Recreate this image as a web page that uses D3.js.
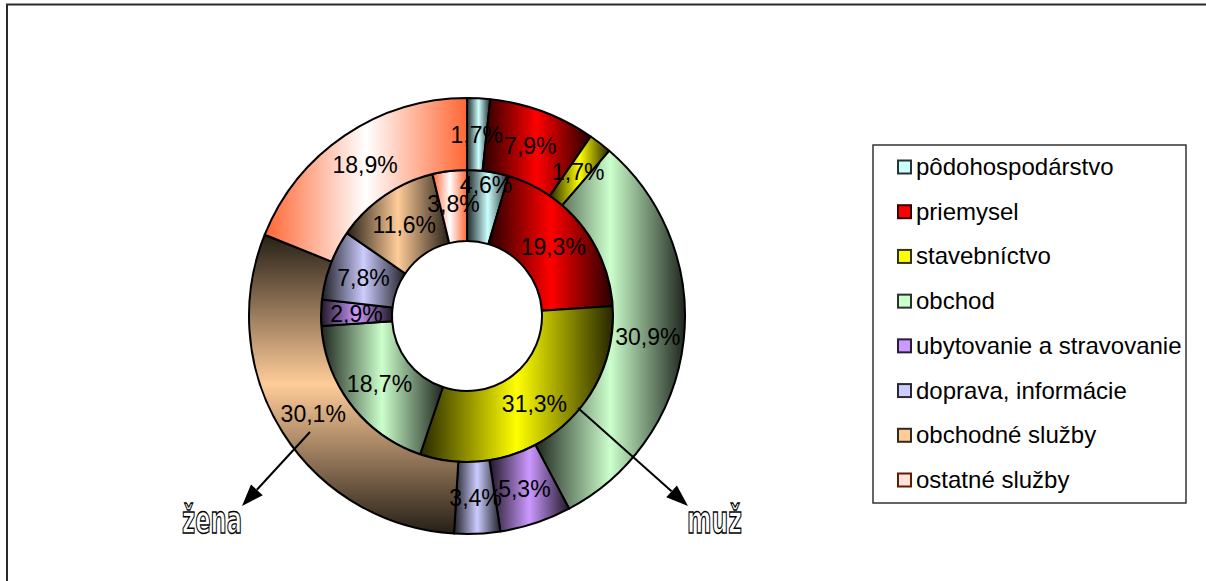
<!DOCTYPE html>
<html>
<head>
<meta charset="utf-8">
<script src="https://cdn.jsdelivr.net/npm/d3@7"></script>
<style>
  html, body { margin: 0; padding: 0; background: #fff; }
  svg { display: block; }
</style>
</head>
<body>
<svg id="chart" width="1206" height="581"></svg>
<script>
// ---- data ----
const categories = ["pôdohospodárstvo", "priemysel", "stavebníctvo", "obchod",
  "ubytovanie a stravovanie", "doprava, informácie", "obchodné služby", "ostatné služby"];
const muz  = [4.6, 19.3, 31.3, 18.7, 2.9, 7.8, 11.6, 3.8];   // inner ring
const zena = [1.7, 7.9, 1.7, 30.9, 5.3, 3.4, 30.1, 18.9];    // outer ring
const seriesNames = ["muž", "žena"];

// ---- styles ----
const baseColors = ["#CCFFFF", "#FF0000", "#FFFF00", "#CCFFCC", "#CC99FF", "#CCCCFF", "#FFCC99", "#FFFFFF"];
const edgeOverride = { 7: "#FF6633" };
const outerDir = ["h", "h", "h", "h", "h", "h", "v", "h"];
const innerDir = ["h", "h", "h", "h", "h", "h", "h", "h"];
const labelRadialShift = { "0_0": 22, "0_7": 3 };

const cx = 467, cy = 316;
const rHole = 75, rMid = 146, rOuter = 218;

const svg = d3.select("#chart");
const defs = svg.append("defs");

// chart border
svg.append("rect").attr("x", 7).attr("y", 4.5).attr("width", 1210).attr("height", 620)
  .attr("fill", "#fff").attr("stroke", "#2a2a2a").attr("stroke-width", 2);

function edgeColor(i) {
  return edgeOverride[i] || d3.interpolateRgb(baseColors[i], "#000")(0.85);
}
function makeGrad(id, i, dir) {
  const g = defs.append("linearGradient").attr("id", id)
    .attr("x1", 0).attr("y1", 0)
    .attr("x2", dir === "h" ? 1 : 0).attr("y2", dir === "h" ? 0 : 1);
  g.append("stop").attr("offset", "0%").attr("stop-color", edgeColor(i));
  g.append("stop").attr("offset", "50%").attr("stop-color", baseColors[i]);
  g.append("stop").attr("offset", "100%").attr("stop-color", edgeColor(i));
}

const pie = d3.pie().sort(null).value(d => d).startAngle(0).endAngle(2 * Math.PI);
const rings = [
  { name: seriesNames[0], values: muz, r0: rHole, r1: rMid, dir: innerDir },
  { name: seriesNames[1], values: zena, r0: rMid, r1: rOuter, dir: outerDir }
];

const g = svg.append("g").attr("transform", `translate(${cx},${cy})`);

rings.forEach((ring, ri) => {
  const arc = d3.arc().innerRadius(ring.r0).outerRadius(ring.r1);
  const arcs = pie(ring.values);
  arcs.forEach((a, i) => makeGrad(`gr${ri}_${i}`, i, ring.dir[i]));
  g.append("g").selectAll("path").data(arcs).join("path")
    .attr("d", arc)
    .attr("fill", (d, i) => `url(#gr${ri}_${i})`)
    .attr("stroke", "#000").attr("stroke-width", 2).attr("stroke-linejoin", "round");
  ring.labelArcs = arcs; ring.ri = ri;
});

// labels
rings.forEach(ring => {
  g.append("g").selectAll("text").data(ring.labelArcs).join("text")
    .attr("transform", (d, i) => {
      const r = (ring.r0 + ring.r1) / 2 + (labelRadialShift[`${ring.ri}_${i}`] || 0);
      const a = (d.startAngle + d.endAngle) / 2;
      return `translate(${r * Math.sin(a)},${-r * Math.cos(a)})`;
    })
    .attr("text-anchor", "middle").attr("dy", "0.36em")
    .style("font-family", "'Liberation Sans', Arial, sans-serif")
    .style("font-size", "23px").attr("fill", "#000")
    .text(d => d.data.toFixed(1).replace(".", ",") + "%");
});

// arrows
function arrow(x1, y1, x2, y2) {
  const ang = Math.atan2(y2 - y1, x2 - x1);
  const L = 22, Wd = 8;
  const bx = x2 - L * Math.cos(ang), by = y2 - L * Math.sin(ang);
  svg.append("line").attr("x1", x1).attr("y1", y1).attr("x2", bx).attr("y2", by)
    .attr("stroke", "#000").attr("stroke-width", 2);
  const p = [[x2, y2],
    [bx + Wd * Math.sin(ang), by - Wd * Math.cos(ang)],
    [bx - Wd * Math.sin(ang), by + Wd * Math.cos(ang)]];
  svg.append("polygon").attr("points", p.map(q => q.join(",")).join(" ")).attr("fill", "#000");
}
arrow(310, 432, 242, 506);
arrow(578, 408, 688, 506);

// series names (outlined text)
[[seriesNames[1], 182, 533, 60], [seriesNames[0], 687, 533, 55]].forEach(([t, x, y, len]) => {
  svg.append("text").attr("x", x).attr("y", y)
    .attr("textLength", len).attr("lengthAdjust", "spacingAndGlyphs")
    .style("font-family", "'Liberation Sans Narrow', 'DejaVu Sans Condensed', sans-serif")
    .style("font-size", "38px").style("font-weight", "bold")
    .attr("fill", "#fff").attr("stroke", "#000").attr("stroke-width", 1.4)
    .text(t);
});

// legend
const lg = svg.append("g");
lg.append("rect").attr("x", 873).attr("y", 145).attr("width", 313).attr("height", 358)
  .attr("fill", "#fff").attr("stroke", "#333").attr("stroke-width", 1.5);
const rowY = d3.scalePoint().domain(categories).range([167, 480]);
const items = lg.selectAll("g.item").data(categories).join("g").attr("class", "item")
  .attr("transform", d => `translate(0,${rowY(d)})`);
items.append("rect").attr("x", 898).attr("y", -6.5).attr("width", 13).attr("height", 13)
  .attr("fill", (d, i) => i === 7 ? "#FFE4DC" : baseColors[i])
  .attr("stroke", (d, i) => i === 7 ? "#661a00" : d3.interpolateRgb(baseColors[i], "#000")(0.8))
  .attr("stroke-width", 2);
items.append("text").attr("x", 916).attr("y", 8)
  .style("font-family", "'Liberation Sans', Arial, sans-serif")
  .style("font-size", "24px").attr("fill", "#000")
  .text(d => d);
</script>
</body>
</html>
